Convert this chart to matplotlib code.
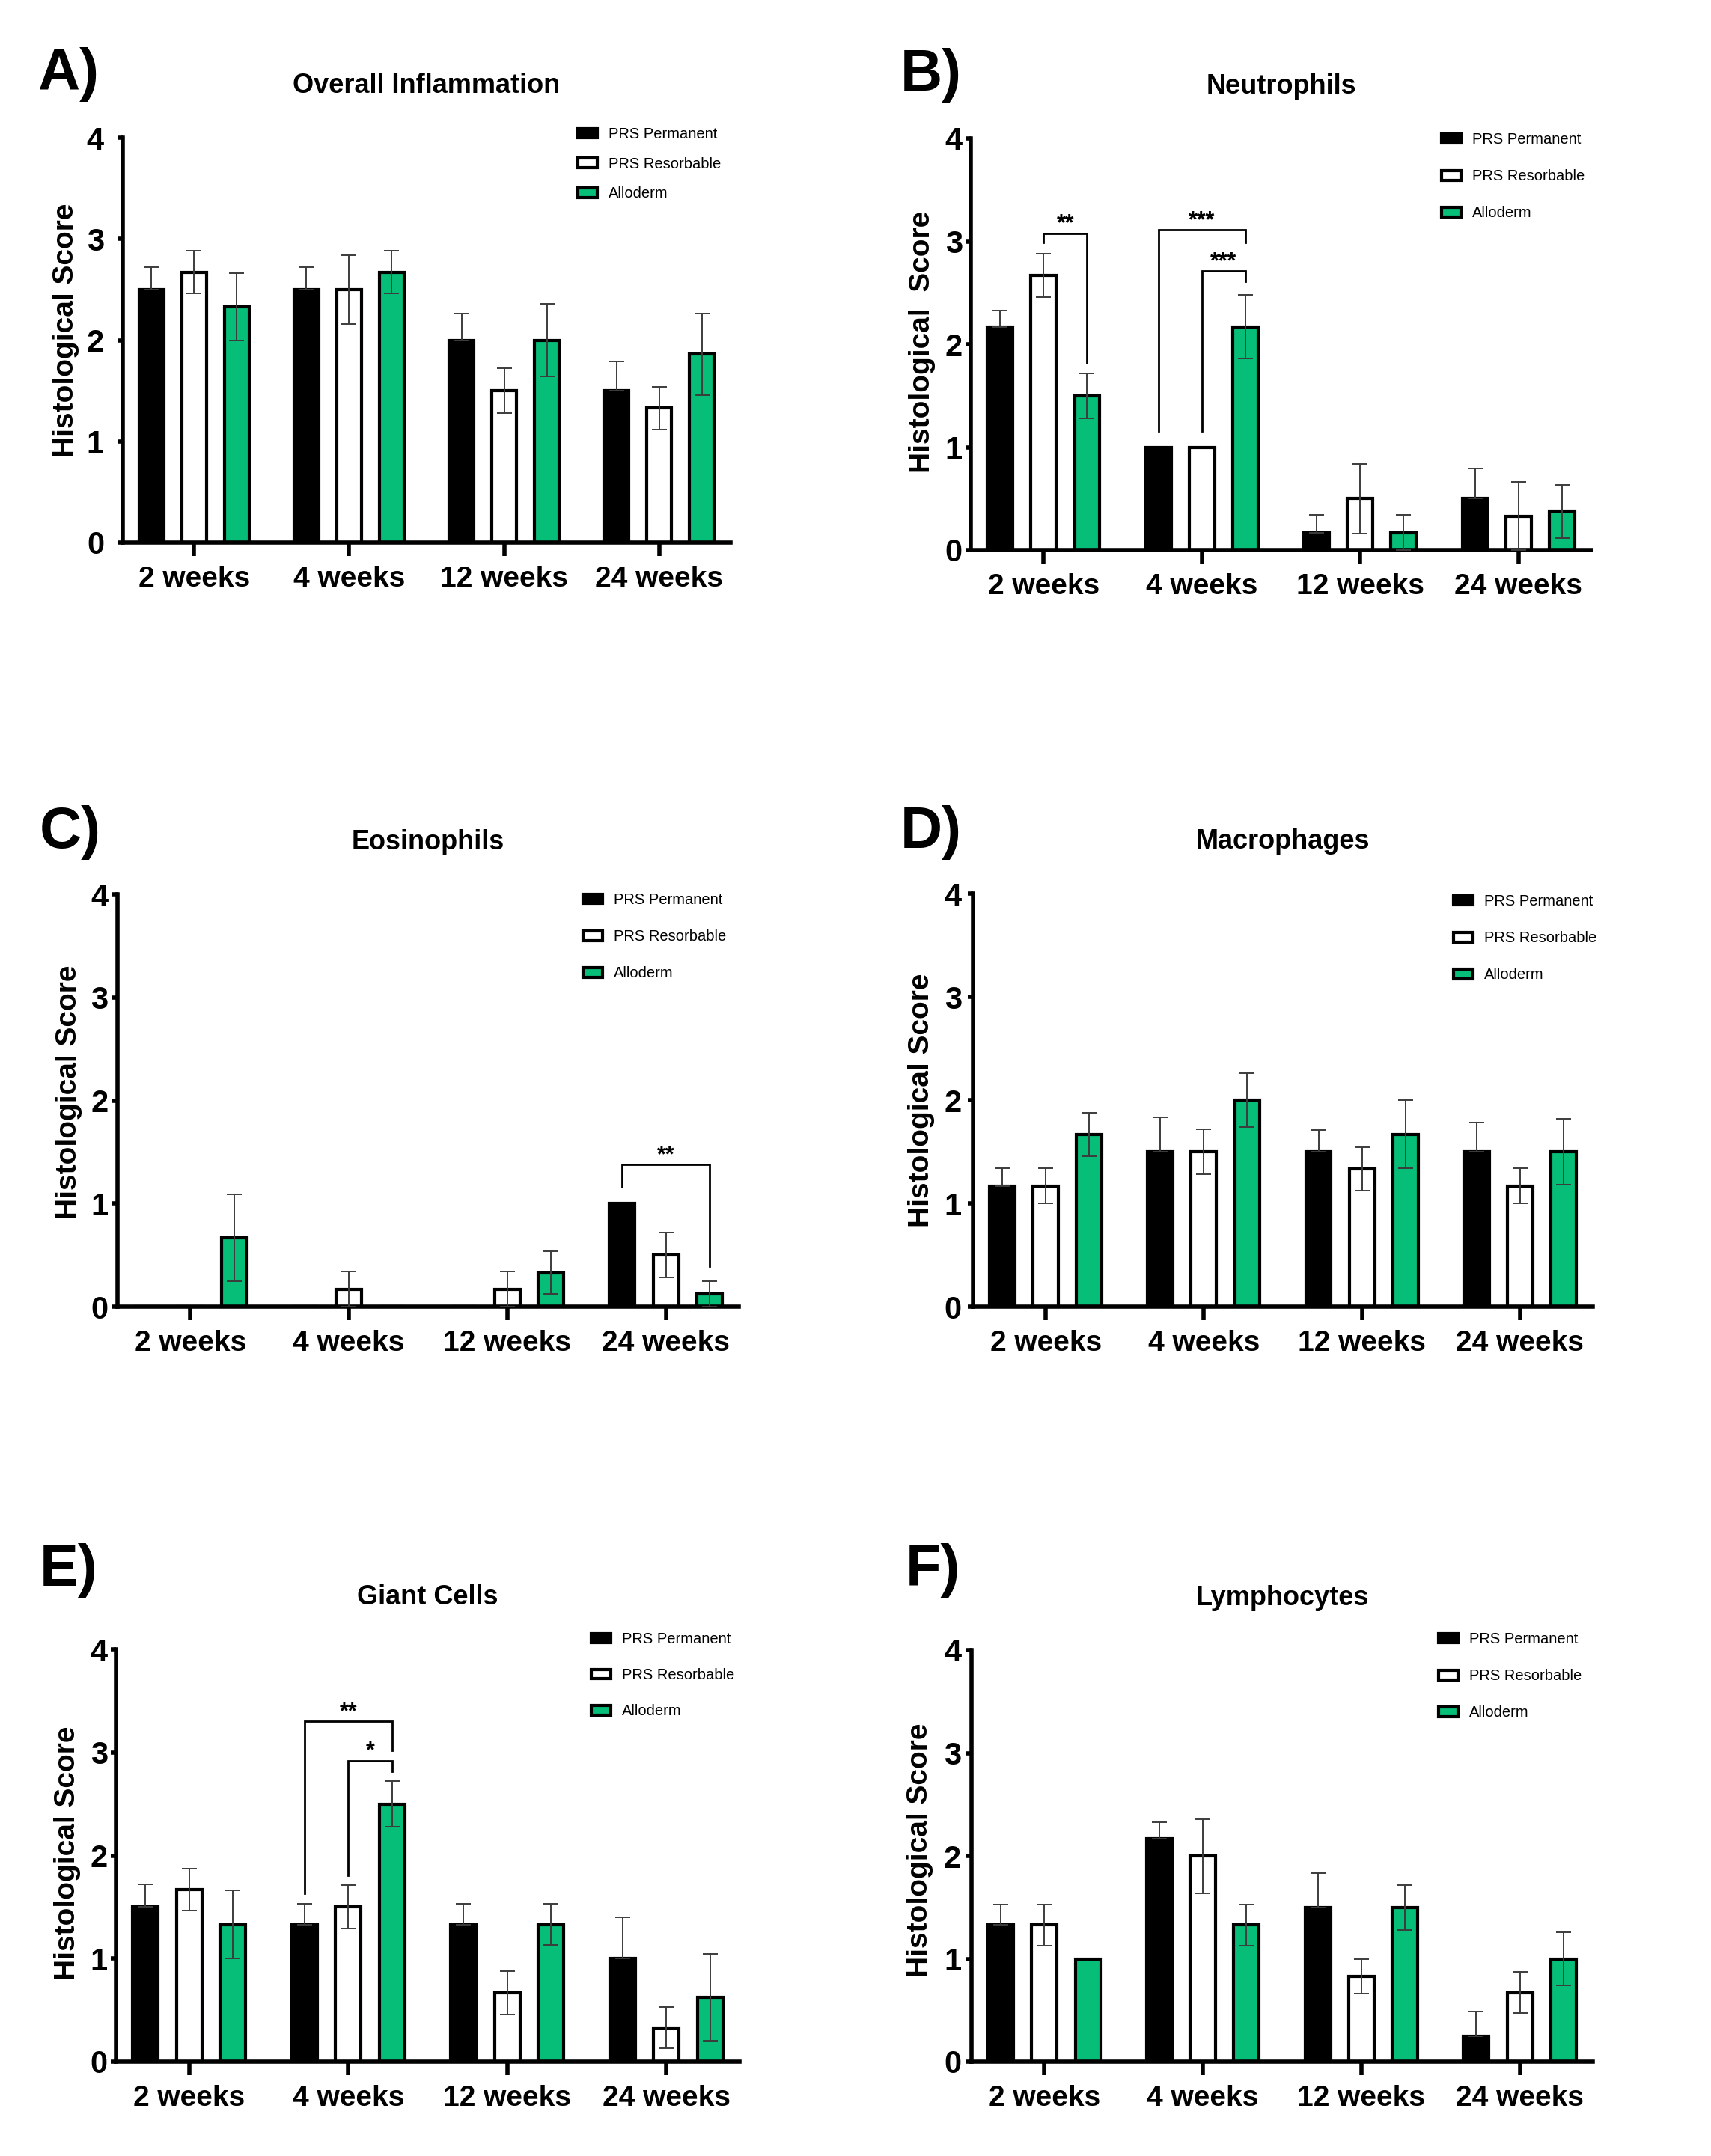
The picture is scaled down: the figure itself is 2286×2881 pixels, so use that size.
import numpy as np
import matplotlib
matplotlib.use('Agg')
import matplotlib.pyplot as plt

plt.rcParams['font.family'] = ['Liberation Sans', 'DejaVu Sans']

weeks = ['2 weeks', '4 weeks', '12 weeks', '24 weeks']
series_names = ['PRS Permanent', 'PRS Resorbable', 'Alloderm']
series_colors = ['black', 'white', '#07BE78']

# mean / SEM per panel, one list per graft type (2, 4, 12, 24 weeks)
inflam_perm = [2.5, 2.5, 2.0, 1.5]
inflam_perm_sem = [0.22, 0.22, 0.26, 0.29]
inflam_res = [2.67, 2.5, 1.5, 1.33]
inflam_res_sem = [0.21, 0.34, 0.22, 0.21]
inflam_allo = [2.33, 2.67, 2.0, 1.86]
inflam_allo_sem = [0.33, 0.21, 0.36, 0.40]

neut_perm = [2.17, 1.0, 0.17, 0.5]
neut_perm_sem = [0.16, 0.0, 0.17, 0.29]
neut_res = [2.67, 1.0, 0.5, 0.33]
neut_res_sem = [0.21, 0.0, 0.34, 0.33]
neut_allo = [1.5, 2.17, 0.17, 0.375]
neut_allo_sem = [0.22, 0.31, 0.17, 0.26]

eos_perm = [0.0, 0.0, 0.0, 1.0]
eos_perm_sem = [0.0, 0.0, 0.0, 0.0]
eos_res = [0.0, 0.17, 0.17, 0.5]
eos_res_sem = [0.0, 0.17, 0.17, 0.22]
eos_allo = [0.67, 0.0, 0.33, 0.125]
eos_allo_sem = [0.42, 0.0, 0.21, 0.125]

mac_perm = [1.17, 1.5, 1.5, 1.5]
mac_perm_sem = [0.17, 0.33, 0.21, 0.28]
mac_res = [1.17, 1.5, 1.33, 1.17]
mac_res_sem = [0.17, 0.22, 0.21, 0.17]
mac_allo = [1.67, 2.0, 1.67, 1.5]
mac_allo_sem = [0.21, 0.26, 0.33, 0.32]

giant_perm = [1.5, 1.33, 1.33, 1.0]
giant_perm_sem = [0.22, 0.2, 0.2, 0.4]
giant_res = [1.67, 1.5, 0.67, 0.33]
giant_res_sem = [0.2, 0.21, 0.21, 0.2]
giant_allo = [1.33, 2.5, 1.33, 0.625]
giant_allo_sem = [0.33, 0.22, 0.2, 0.42]

lymph_perm = [1.33, 2.17, 1.5, 0.25]
lymph_perm_sem = [0.2, 0.16, 0.33, 0.24]
lymph_res = [1.33, 2.0, 0.83, 0.67]
lymph_res_sem = [0.2, 0.36, 0.17, 0.2]
lymph_allo = [1.0, 1.33, 1.5, 1.0]
lymph_allo_sem = [0.0, 0.2, 0.22, 0.26]

# significance brackets: (week, bar from, bar to, top, left leg end, right leg end, stars)
neut_sig = [(0, 1, 2, 3.08, 2.99, 1.82, '**'),
            (1, 0, 2, 3.11, 1.16, 2.99, '***'),
            (1, 1, 2, 2.71, 1.16, 2.61, '***')]
eos_sig = [(3, 0, 2, 1.38, 1.16, 0.39, '**')]
giant_sig = [(1, 0, 2, 3.30, 1.63, 3.02, '**'),
             (1, 1, 2, 2.92, 1.81, 2.82, '*')]

W, H = 2286, 2881
fig = plt.figure(figsize=(W / 100, H / 100), dpi=100)

# layout in pixels: axes box (left, right, top, bottom), legend top-left, letter position
panels = [
    dict(letter='A)', title='Overall Inflammation', ylabel='Histological Score',
         data=[(inflam_perm, inflam_perm_sem), (inflam_res, inflam_res_sem), (inflam_allo, inflam_allo_sem)],
         sig=[], box=(164, 976, 184, 725), leg=(772, 170), lsp=1.03, let=(50, 120),
         ylab=(-0.072, 0.525), ypad=13),
    dict(letter='B)', title='Neutrophils', ylabel='Histological  Score',
         data=[(neut_perm, neut_perm_sem), (neut_res, neut_res_sem), (neut_allo, neut_allo_sem)],
         sig=neut_sig, box=(1297, 2126, 185, 735), leg=(1926, 177), lsp=1.5, let=(1203, 121),
         ylab=(-0.057, 0.505), ypad=3),
    dict(letter='C)', title='Eosinophils', ylabel='Histological Score',
         data=[(eos_perm, eos_perm_sem), (eos_res, eos_res_sem), (eos_allo, eos_allo_sem)],
         sig=eos_sig, box=(157, 987, 1195, 1746), leg=(779, 1193), lsp=1.5, let=(53, 1133),
         ylab=(-0.057, 0.52), ypad=4),
    dict(letter='D)', title='Macrophages', ylabel='Histological Score',
         data=[(mac_perm, mac_perm_sem), (mac_res, mac_res_sem), (mac_allo, mac_allo_sem)],
         sig=[], box=(1300, 2128, 1194, 1746), leg=(1942, 1195), lsp=1.5, let=(1203, 1133),
         ylab=(-0.061, 0.50), ypad=6),
    dict(letter='E)', title='Giant Cells', ylabel='Histological Score',
         data=[(giant_perm, giant_perm_sem), (giant_res, giant_res_sem), (giant_allo, giant_allo_sem)],
         sig=giant_sig, box=(155, 988, 2204, 2755), leg=(790, 2181), lsp=1.45, let=(53, 2119),
         ylab=(-0.057, 0.505), ypad=3),
    dict(letter='F)', title='Lymphocytes', ylabel='Histological Score',
         data=[(lymph_perm, lymph_perm_sem), (lymph_res, lymph_res_sem), (lymph_allo, lymph_allo_sem)],
         sig=[], box=(1298, 2128, 2205, 2755), leg=(1922, 2181), lsp=1.5, let=(1210, 2119),
         ylab=(-0.061, 0.515), ypad=5),
]

pitch = 0.275
bar_w = 0.16
x = np.arange(len(weeks))

for p in panels:
    l, r, t, b = p['box']
    ax = fig.add_axes([l / W, 1 - b / H, (r - l) / W, (b - t) / H])

    for j, (vals, sem) in enumerate(p['data']):
        xs = x + (j - 1) * pitch
        vals = np.array(vals)
        sem = np.array(sem)
        ax.bar(xs, vals, width=bar_w, color=series_colors[j], edgecolor='black',
               linewidth=3, label=series_names[j], zorder=2)
        m = sem > 0
        lo = np.zeros_like(sem) if j == 0 else sem
        ax.errorbar(xs[m], vals[m], yerr=[lo[m], sem[m]], fmt='none', ecolor='#3c3c3c',
                    elinewidth=1.4, capsize=7, capthick=1.4, zorder=3)

    for wk, j1, j2, top, y1, y2, stars in p['sig']:
        x1 = wk + (j1 - 1) * pitch
        x2 = wk + (j2 - 1) * pitch
        ax.plot([x1, x1, x2, x2], [y1, top, top, y2], color='black', lw=2,
                solid_joinstyle='miter', zorder=4)
        ax.text((x1 + x2) / 2, top + 0.03, stars, ha='center', va='baseline',
                fontsize=22, fontweight='bold')

    ax.set_xlim(-0.46, 3.46)
    ax.set_ylim(0, 4)
    ax.spines['top'].set_visible(False)
    ax.spines['right'].set_visible(False)
    ax.spines['left'].set_linewidth(4)
    ax.spines['bottom'].set_linewidth(4)
    ax.set_xticks(x)
    ax.set_xticklabels(weeks, fontsize=28, fontweight='bold')
    ax.set_yticks([0, 1, 2, 3, 4])
    ax.set_yticklabels(['0', '1', '2', '3', '4'], fontsize=30, fontweight='bold')
    ax.tick_params(axis='x', direction='out', length=13, width=4, pad=9)
    ax.tick_params(axis='y', direction='out', length=5, width=4, pad=p['ypad'])

    ax.set_ylabel(p['ylabel'], fontsize=28, fontweight='bold')
    ax.yaxis.set_label_coords(*p['ylab'])
    ax.set_title(p['title'], fontsize=26, fontweight='bold', pad=43)

    lx, ly = p['leg']
    ax.legend(loc='upper left', bbox_to_anchor=(lx / W, 1 - ly / H), bbox_transform=fig.transFigure,
              frameon=False, fontsize=14.5, borderpad=0, borderaxespad=0,
              handlelength=1.3, handleheight=0.6, handletextpad=0.75, labelspacing=p['lsp'])

    fig.text(p['let'][0] / W, 1 - p['let'][1] / H, p['letter'], fontsize=56,
             fontweight='bold', ha='left', va='baseline')

fig.savefig('out.png', dpi=100)
